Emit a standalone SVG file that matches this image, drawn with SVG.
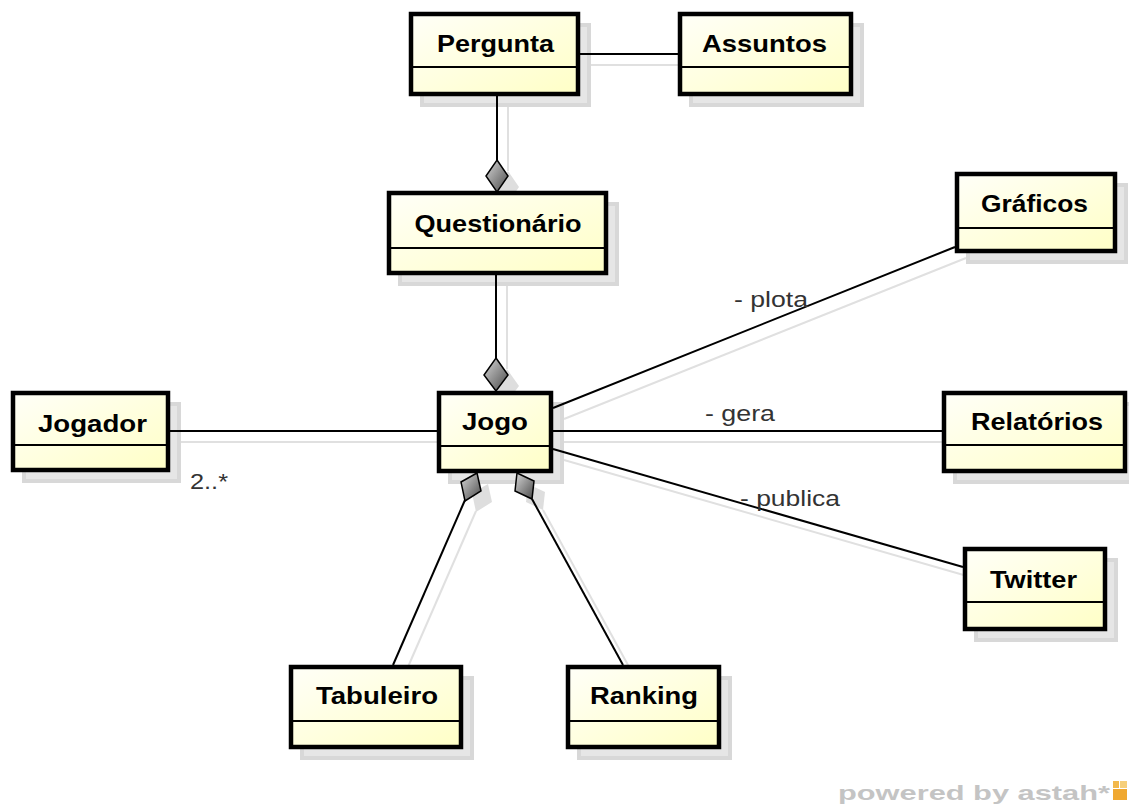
<svg xmlns="http://www.w3.org/2000/svg" width="1129" height="805" viewBox="0 0 1129 805">
<defs>
<linearGradient id="fillY" x1="0" y1="0" x2="1" y2="1">
<stop offset="0" stop-color="#fffff8"/>
<stop offset="1" stop-color="#ffffc6"/>
</linearGradient>
<linearGradient id="fillD" x1="0" y1="0" x2="1" y2="1">
<stop offset="0" stop-color="#d8d8d8"/>
<stop offset="1" stop-color="#4a4a4a"/>
</linearGradient>
<style>
.box{fill:url(#fillY);stroke:#000;stroke-width:4.5}
.shd{fill:#e6e6e6;stroke:#d8d8d8;stroke-width:4}
.sep{stroke:#000;stroke-width:2}
.name{font-family:"Liberation Sans",Arial,sans-serif;font-weight:bold;font-size:24px;fill:#000;text-anchor:middle}
.lbl{font-family:"Liberation Sans",Arial,sans-serif;font-size:22px;fill:#333}
.ln{stroke:#000;stroke-width:2;fill:none}
.lsh{stroke:#e0e0e0;stroke-width:2;fill:none}
.dia{fill:url(#fillD);stroke:#000;stroke-width:1.5}
.dsh{fill:#dedede;stroke:none}
</style>
</defs>
<rect width="1129" height="805" fill="#fff"/>
<g id="shadows">
<rect class="shd" x="422" y="25" width="167" height="80"/>
<rect class="shd" x="691" y="25" width="171" height="80"/>
<rect class="shd" x="400" y="204" width="217" height="80"/>
<rect class="shd" x="24" y="404" width="155" height="77"/>
<rect class="shd" x="450" y="404" width="112" height="78"/>
<rect class="shd" x="968" y="185" width="158" height="77"/>
<rect class="shd" x="955" y="404" width="181" height="78"/>
<rect class="shd" x="976" y="560" width="140" height="80"/>
<rect class="shd" x="302" y="678" width="170" height="80"/>
<rect class="shd" x="579" y="678" width="151" height="80"/>
<line class="lsh" x1="591" y1="65" x2="689" y2="65"/>
<line class="lsh" x1="508" y1="107" x2="508" y2="171"/>
<polygon class="dsh" points="508,171 519,187 508,203 497,187"/>
<line class="lsh" x1="507" y1="286" x2="507" y2="369"/>
<polygon class="dsh" points="507,369 519,386 507,402 495,386"/>
<line class="lsh" x1="181" y1="442" x2="448" y2="442"/>
<line class="lsh" x1="564" y1="442" x2="953" y2="442"/>
<line class="lsh" x1="564" y1="419" x2="966" y2="258"/>
<line class="lsh" x1="564" y1="460" x2="974" y2="578"/>
<polygon class="dsh" points="488,484 492,502 476,512 472,493"/>
<line class="lsh" x1="476" y1="511" x2="404" y2="676"/>
<polygon class="dsh" points="528,484 545,492 543,510 526,502"/>
<line class="lsh" x1="543" y1="510" x2="634" y2="676"/>
</g>
<g id="connectors">
<line class="ln" x1="580" y1="54" x2="678" y2="54"/>
<line class="ln" x1="497" y1="96" x2="497" y2="160"/>
<line class="ln" x1="496" y1="275" x2="496" y2="358"/>
<line class="ln" x1="170" y1="431" x2="437" y2="431"/>
<line class="ln" x1="553" y1="431" x2="942" y2="431"/>
<line class="ln" x1="553" y1="408" x2="955" y2="247"/>
<line class="ln" x1="553" y1="449" x2="963" y2="567"/>
<line class="ln" x1="465" y1="500" x2="393" y2="665"/>
<line class="ln" x1="532" y1="499" x2="623" y2="665"/>
<text class="lbl" x="734" y="307" textLength="74" lengthAdjust="spacingAndGlyphs">- plota</text>
<text class="lbl" x="705" y="421" textLength="70" lengthAdjust="spacingAndGlyphs">- gera</text>
<text class="lbl" x="740" y="506" textLength="100" lengthAdjust="spacingAndGlyphs">- publica</text>
<text class="lbl" x="190" y="489" textLength="38" lengthAdjust="spacingAndGlyphs">2..*</text>
</g>
<g id="Pergunta">
<rect class="box" x="411" y="14" width="167" height="80"/>
<line class="sep" x1="411" y1="67" x2="578" y2="67"/>
<text class="name" x="495.5" y="52" textLength="117" lengthAdjust="spacingAndGlyphs">Pergunta</text>
</g>
<g id="Assuntos">
<rect class="box" x="680" y="14" width="171" height="80"/>
<line class="sep" x1="680" y1="67" x2="851" y2="67"/>
<text class="name" x="764.5" y="52" textLength="125" lengthAdjust="spacingAndGlyphs">Assuntos</text>
</g>
<g id="Questionario">
<rect class="box" x="389" y="193" width="217" height="80"/>
<line class="sep" x1="389" y1="248" x2="606" y2="248"/>
<text class="name" x="498" y="232" textLength="167" lengthAdjust="spacingAndGlyphs">Questionário</text>
</g>
<g id="Jogador">
<rect class="box" x="13" y="393" width="155" height="77"/>
<line class="sep" x1="13" y1="445" x2="168" y2="445"/>
<text class="name" x="92.5" y="432" textLength="109" lengthAdjust="spacingAndGlyphs">Jogador</text>
</g>
<g id="Jogo">
<rect class="box" x="439" y="393" width="112" height="78"/>
<line class="sep" x1="439" y1="446" x2="551" y2="446"/>
<text class="name" x="495" y="430" textLength="66" lengthAdjust="spacingAndGlyphs">Jogo</text>
</g>
<g id="Graficos">
<rect class="box" x="957" y="174" width="158" height="77"/>
<line class="sep" x1="957" y1="228" x2="1115" y2="228"/>
<text class="name" x="1034.5" y="212" textLength="107" lengthAdjust="spacingAndGlyphs">Gráficos</text>
</g>
<g id="Relatorios">
<rect class="box" x="944" y="393" width="181" height="78"/>
<line class="sep" x1="944" y1="445" x2="1125" y2="445"/>
<text class="name" x="1037" y="430" textLength="132" lengthAdjust="spacingAndGlyphs">Relatórios</text>
</g>
<g id="Twitter">
<rect class="box" x="965" y="549" width="140" height="80"/>
<line class="sep" x1="965" y1="602" x2="1105" y2="602"/>
<text class="name" x="1033.5" y="588" textLength="87" lengthAdjust="spacingAndGlyphs">Twitter</text>
</g>
<g id="Tabuleiro">
<rect class="box" x="291" y="667" width="170" height="80"/>
<line class="sep" x1="291" y1="721" x2="461" y2="721"/>
<text class="name" x="377" y="704" textLength="122" lengthAdjust="spacingAndGlyphs">Tabuleiro</text>
</g>
<g id="Ranking">
<rect class="box" x="568" y="667" width="151" height="80"/>
<line class="sep" x1="568" y1="721" x2="719" y2="721"/>
<text class="name" x="644" y="704" textLength="108" lengthAdjust="spacingAndGlyphs">Ranking</text>
</g>
<g id="diamonds">
<polygon class="dia" points="497,160 508,176 497,192 486,176"/>
<polygon class="dia" points="496,358 508,375 496,391 484,375"/>
<polygon class="dia" points="477,473 481,491 465,501 461,482"/>
<polygon class="dia" points="517,473 534,481 532,499 515,491"/>
</g>
<g id="watermark">
<text x="838" y="800" font-family="'Liberation Sans',Arial,sans-serif" font-weight="bold" font-size="21" fill="#c4c4c4" textLength="272" lengthAdjust="spacingAndGlyphs">powered by astah*</text>
<rect x="1113" y="781" width="6" height="7" fill="#f2b84b"/>
<rect x="1120" y="781" width="7" height="7" fill="#f6cf7a"/>
<rect x="1113" y="789" width="14" height="11" fill="#f0a830"/>
</g>
</svg>
